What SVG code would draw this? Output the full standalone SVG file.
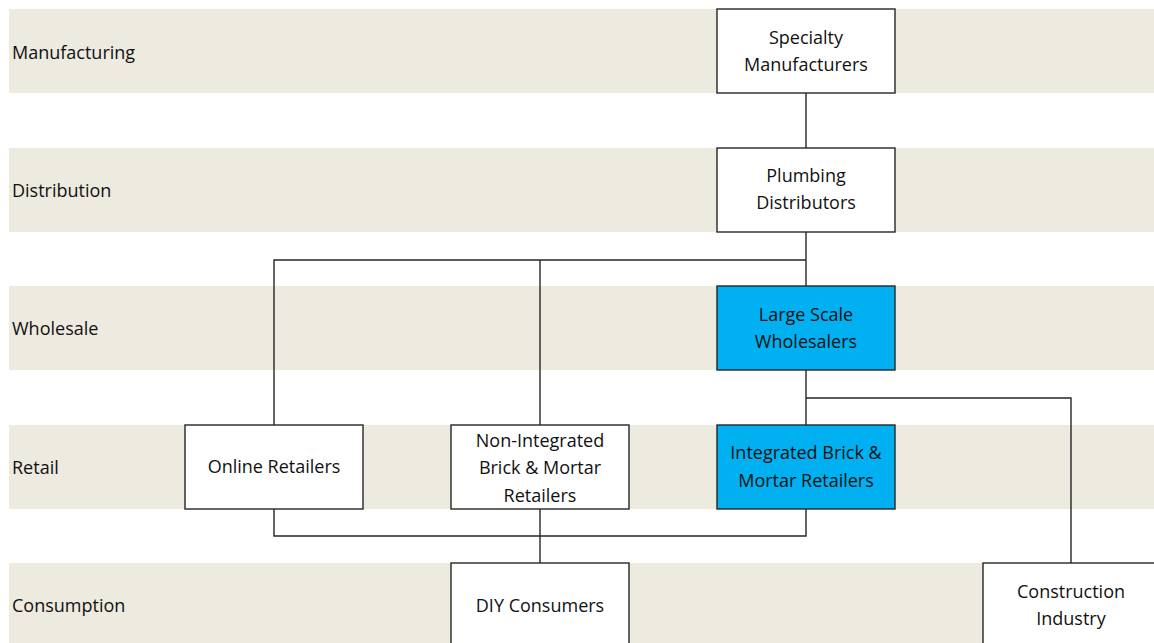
<svg xmlns="http://www.w3.org/2000/svg" width="1154" height="643" viewBox="0 0 1154 643">
<style>
.band{fill:#EDEAE0}
.lbl{font-family:"Open Sans","Liberation Sans",sans-serif;font-size:18px;fill:#111111}
.box{fill:#ffffff;stroke:#262626;stroke-width:1.4}
.hl{fill:#00B0F0}
.t{font-family:"Open Sans","Liberation Sans",sans-serif;font-size:18px;fill:#111111;text-anchor:middle}
.con{fill:none;stroke:#262626;stroke-width:1.4}
</style>
<rect width="1154" height="643" fill="#ffffff"/>
<g id="bands">
<rect class="band" x="9" y="9" width="1145" height="84"/>
<rect class="band" x="9" y="148" width="1145" height="84"/>
<rect class="band" x="9" y="286" width="1145" height="84"/>
<rect class="band" x="9" y="425" width="1145" height="84"/>
<rect class="band" x="9" y="563" width="1145" height="84"/>
<text class="lbl" x="12" y="59">Manufacturing</text>
<text class="lbl" x="12" y="197">Distribution</text>
<text class="lbl" x="12" y="335">Wholesale</text>
<text class="lbl" x="12" y="474">Retail</text>
<text class="lbl" x="12" y="612">Consumption</text>
</g>
<g id="connectors">
<path class="con" d="M806 93V148"/>
<path class="con" d="M806 232V286"/>
<path class="con" d="M274 425V260H806"/>
<path class="con" d="M540 260V425"/>
<path class="con" d="M806 370V425"/>
<path class="con" d="M806 398H1071V563"/>
<path class="con" d="M274 509V536H806V509"/>
<path class="con" d="M540 509V563"/>
</g>
<g id="specialty-manufacturers">
<rect class="box" x="717" y="9" width="178" height="84"/>
<text class="t" x="806" y="44">Specialty</text>
<text class="t" x="806" y="71">Manufacturers</text>
</g>
<g id="plumbing-distributors">
<rect class="box" x="717" y="148" width="178" height="84"/>
<text class="t" x="806" y="182">Plumbing</text>
<text class="t" x="806" y="209">Distributors</text>
</g>
<g id="large-scale-wholesalers">
<rect class="box hl" x="717" y="286" width="178" height="84"/>
<text class="t" x="806" y="321">Large Scale</text>
<text class="t" x="806" y="348">Wholesalers</text>
</g>
<g id="online-retailers">
<rect class="box" x="185" y="425" width="178" height="84"/>
<text class="t" x="274" y="473">Online Retailers</text>
</g>
<g id="non-integrated-retailers">
<rect class="box" x="451" y="425" width="178" height="84"/>
<text class="t" x="540" y="447">Non-Integrated</text>
<text class="t" x="540" y="474">Brick &amp; Mortar</text>
<text class="t" x="540" y="502">Retailers</text>
</g>
<g id="integrated-retailers">
<rect class="box hl" x="717" y="425" width="178" height="84"/>
<text class="t" x="806" y="459">Integrated Brick &amp;</text>
<text class="t" x="806" y="487">Mortar Retailers</text>
</g>
<g id="diy-consumers">
<rect class="box" x="451" y="563" width="178" height="84"/>
<text class="t" x="540" y="612">DIY Consumers</text>
</g>
<g id="construction-industry">
<rect class="box" x="983" y="563" width="178" height="84"/>
<text class="t" x="1071" y="598">Construction</text>
<text class="t" x="1071" y="625">Industry</text>
</g>
</svg>
